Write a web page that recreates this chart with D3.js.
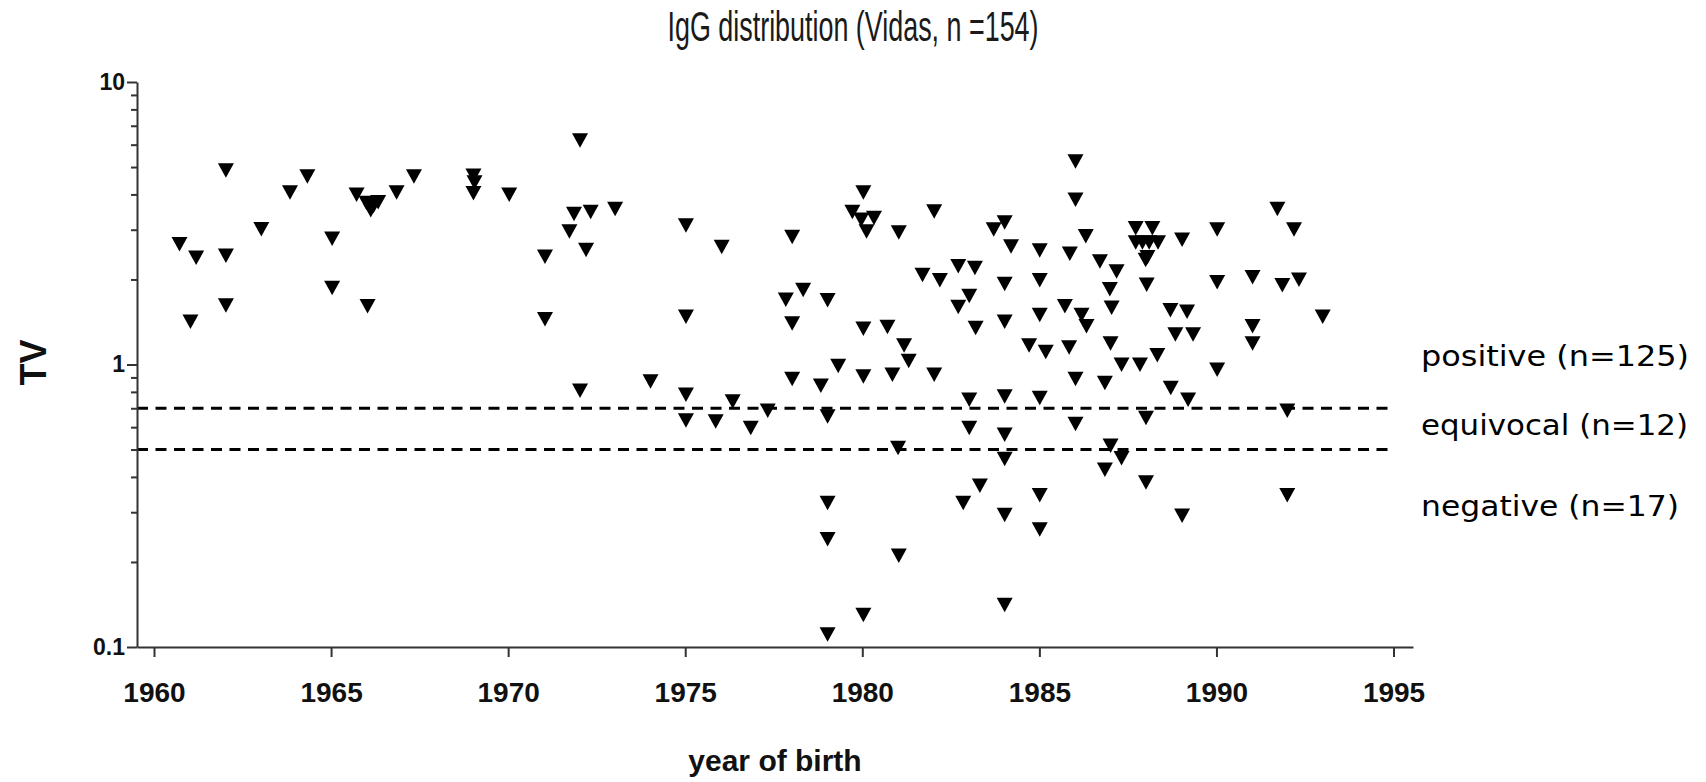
<!DOCTYPE html>
<html>
<head>
<meta charset="utf-8">
<script src="https://cdn.jsdelivr.net/npm/d3@7"></script>
<style>
  html, body { margin: 0; padding: 0; background: #fff; }
  svg { display: block; }
</style>
</head>
<body>
<svg id="chart" width="1706" height="782"></svg>
<script>
// ---------------- data ----------------
const birthYear = [
  // 1960-1970
  1962.03, 1964.33, 1963.84, 1967.34, 1969.02, 1969.05, 1969.02, 1970.03, 1966.85, 1965.72,
  1966.00, 1966.33, 1966.12, 1966.20, 1963.03, 1965.03, 1960.72, 1961.19, 1962.03, 1965.03,
  1962.03, 1966.03, 1961.03,
  // 1970-1981
  1972.03, 1971.86, 1972.33, 1973.02, 1971.73, 1972.20, 1971.04, 1971.04, 1975.02, 1976.03,
  1975.02, 1978.02, 1980.03, 1979.72, 1979.97, 1980.33, 1980.12, 1981.03, 1978.33, 1977.84,
  1979.02, 1978.02, 1980.03, 1980.71, 1981.18, 1981.31,
  // 1981-1993 upper
  1986.02, 1986.02, 1982.03, 1983.71, 1984.02, 1984.20, 1985.01, 1985.86, 1986.31, 1986.71,
  1987.18, 1986.99, 1987.04, 1987.01, 1987.72, 1988.19, 1987.72, 1987.91, 1988.10, 1988.35,
  1988.00, 1988.05, 1988.03, 1989.03, 1990.02, 1991.72, 1992.19, 1990.02, 1991.02, 1991.86,
  1992.33, 1991.02, 1991.02, 1993.00, 1981.70, 1982.19, 1982.71, 1983.18, 1983.02, 1982.71,
  1983.20, 1984.02, 1984.02, 1985.01, 1985.01, 1985.72, 1986.19, 1986.33, 1984.71, 1985.18,
  1985.84, 1988.70, 1989.17, 1988.84, 1989.34, 1988.33, 1987.32, 1987.84,
  // 1972-1981 lower
  1972.03, 1974.02, 1975.02, 1975.02, 1975.86, 1976.34, 1976.85, 1977.33, 1978.02, 1978.83,
  1979.32, 1979.02, 1980.03, 1980.85, 1981.01, 1979.02, 1979.02, 1981.03, 1980.03, 1979.02,
  // 1982-1992 lower
  1982.03, 1986.02, 1986.85, 1990.02, 1988.71, 1989.20, 1983.02, 1984.02, 1985.01, 1988.01,
  1992.00, 1983.02, 1984.02, 1986.02, 1984.02, 1987.01, 1987.32, 1986.85, 1988.01, 1983.32,
  1982.85, 1985.01, 1984.02, 1985.01, 1989.03, 1992.00, 1984.02
];
const tvValue = [
  4.87, 4.64, 4.07, 4.64, 4.67, 4.42, 4.05, 4.00, 4.07, 4.00,
  3.74, 3.76, 3.52, 3.65, 3.02, 2.79, 2.67, 2.39, 2.43, 1.87,
  1.62, 1.61, 1.42,
  6.22, 3.42, 3.47, 3.56, 2.96, 2.55, 2.41, 1.45, 3.11, 2.61,
  1.48, 2.83, 4.07, 3.47, 3.26, 3.31, 2.96, 2.94, 1.84, 1.70,
  1.69, 1.40, 1.34, 1.36, 1.17, 1.03,
  5.24, 3.84, 3.49, 3.01, 3.19, 2.62, 2.54, 2.47, 2.85, 2.32,
  2.14, 1.85, 1.59, 1.19, 3.04, 3.04, 2.71, 2.71, 2.71, 2.71,
  2.35, 2.40, 1.92, 2.77, 3.01, 3.56, 3.01, 1.96, 2.04, 1.91,
  2.00, 1.37, 1.19, 1.48, 2.08, 1.99, 2.23, 2.20, 1.75, 1.60,
  1.35, 1.93, 1.42, 1.99, 1.50, 1.61, 1.50, 1.37, 1.17, 1.11,
  1.15, 1.56, 1.54, 1.28, 1.28, 1.08, 1.00, 1.00,
  0.809, 0.873, 0.783, 0.635, 0.630, 0.741, 0.597, 0.688, 0.890, 0.843,
  0.990, 0.656, 0.909, 0.922, 0.507, 0.324, 0.241, 0.211, 0.130, 0.111,
  0.922, 0.890, 0.861, 0.960, 0.827, 0.752, 0.752, 0.772, 0.762, 0.648,
  0.688, 0.597, 0.565, 0.617, 0.464, 0.517, 0.467, 0.425, 0.383, 0.373,
  0.324, 0.345, 0.294, 0.261, 0.292, 0.345, 0.141
];
const xTickValues = [1960, 1965, 1970, 1975, 1980, 1985, 1990, 1995];
const yMajorTicks = [0.1, 1, 10];
const yMinorTicks = [0.2, 0.3, 0.4, 0.5, 0.6, 0.7, 0.8, 0.9, 2, 3, 4, 5, 6, 7, 8, 9];
const cutoffValues = [0.7, 0.5];
const groupLabels = ["positive (n=125)", "equivocal (n=12)", "negative (n=17)"];
const titleText = "IgG distribution (Vidas, n =154)";
const xTitle = "year of birth";
const yTitle = "TV";

// ---------------- layout ----------------
const svg = d3.select("#chart");
const axisColor = "#333";

const x = d3.scaleLinear().domain([1959.52, 1995.55]).range([137, 1413]);
const y = d3.scaleLog().domain([0.1, 10]).range([647, 82]);

const points = birthYear.map((yr, i) => ({ yr, v: tvValue[i] }));

// title
svg.append("text")
  .attr("x", 853).attr("y", 41)
  .attr("text-anchor", "middle")
  .attr("font-family", "'Liberation Sans', Arial, sans-serif")
  .attr("font-size", 42)
  .attr("fill", "#1a1a1a")
  .attr("textLength", 371)
  .attr("lengthAdjust", "spacingAndGlyphs")
  .text(titleText);

// cutoff dashed lines
svg.append("g").selectAll("line")
  .data(cutoffValues).join("line")
  .attr("x1", x.range()[0]).attr("x2", 1392)
  .attr("y1", d => y(d)).attr("y2", d => y(d))
  .attr("stroke", "#000")
  .attr("stroke-width", 3)
  .attr("stroke-dasharray", "11,7.5");

// x axis
const xAxis = svg.append("g")
  .attr("transform", `translate(0,${y.range()[0]})`)
  .call(d3.axisBottom(x).tickValues(xTickValues).tickFormat(d3.format("d"))
    .tickSize(10).tickSizeOuter(0).tickPadding(25));
xAxis.select(".domain").attr("stroke", axisColor).attr("stroke-width", 2);
xAxis.selectAll(".tick line").attr("stroke", axisColor).attr("stroke-width", 2);
xAxis.selectAll(".tick text")
  .attr("font-family", "'Liberation Sans', Arial, sans-serif")
  .attr("font-weight", "bold").attr("font-size", 28).attr("fill", "#111");

// y axis minor ticks
const yMinor = svg.append("g")
  .attr("transform", `translate(${x.range()[0]},0)`)
  .call(d3.axisLeft(y).tickValues(yMinorTicks).tickFormat("").tickSize(6).tickSizeOuter(0));
yMinor.select(".domain").remove();
yMinor.selectAll(".tick line").attr("stroke", axisColor).attr("stroke-width", 2);

// y axis major
const yAxis = svg.append("g")
  .attr("transform", `translate(${x.range()[0]},0)`)
  .call(d3.axisLeft(y).tickValues(yMajorTicks).tickFormat(d => d === 0.1 ? "0.1" : d3.format("d")(d))
    .tickSize(10).tickSizeOuter(0).tickPadding(2));
yAxis.select(".domain").attr("stroke", axisColor).attr("stroke-width", 2);
yAxis.selectAll(".tick line").attr("stroke", axisColor).attr("stroke-width", 2);
yAxis.selectAll(".tick text")
  .attr("font-family", "'Liberation Sans', Arial, sans-serif")
  .attr("font-weight", "bold").attr("font-size", 23).attr("fill", "#111");

// axis titles
svg.append("text")
  .attr("transform", `translate(46,${(y.range()[0] + y.range()[1]) / 2 - 2}) rotate(-90)`)
  .attr("text-anchor", "middle")
  .attr("font-family", "'Liberation Sans', Arial, sans-serif")
  .attr("font-weight", "bold").attr("font-size", 36).attr("fill", "#111")
  .text(yTitle);

svg.append("text")
  .attr("x", 775).attr("y", 771)
  .attr("text-anchor", "middle")
  .attr("font-family", "'Liberation Sans', Arial, sans-serif")
  .attr("font-weight", "bold").attr("font-size", 30).attr("fill", "#111")
  .text(xTitle);

// markers (downward triangles)
const tri = "M-8,-7L8,-7L0,7.5Z";
svg.append("g").selectAll("path")
  .data(points).join("path")
  .attr("d", tri)
  .attr("transform", d => `translate(${x(d.yr)},${y(d.v)})`)
  .attr("fill", "#000");

// group labels on the right
const labelY = [366, 435, 516];
svg.append("g").selectAll("text")
  .data(groupLabels).join("text")
  .attr("x", 1421).attr("y", (d, i) => labelY[i])
  .attr("font-family", "'DejaVu Sans', Verdana, sans-serif")
  .attr("font-size", 28).attr("fill", "#000")
  .attr("textLength", (d, i) => [268, 267, 258][i])
  .attr("lengthAdjust", "spacingAndGlyphs")
  .text(d => d);
</script>
</body>
</html>
